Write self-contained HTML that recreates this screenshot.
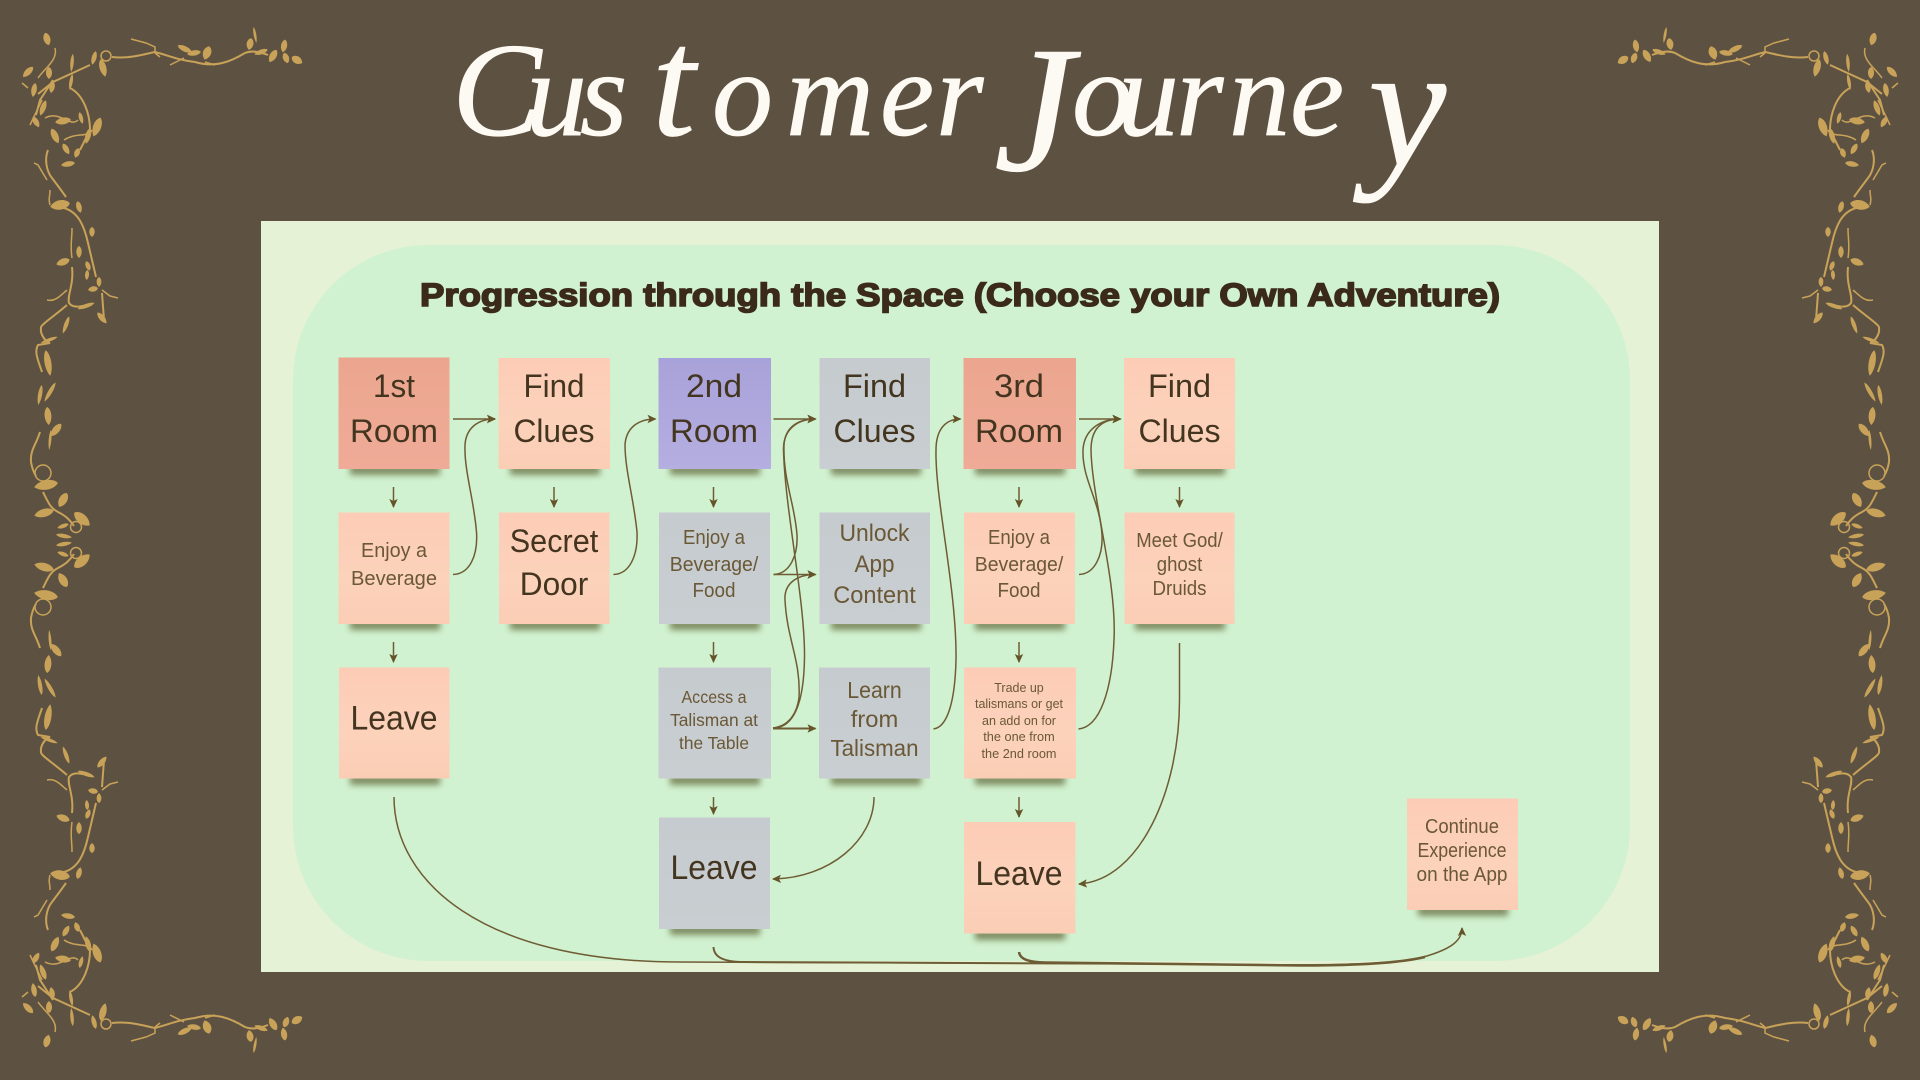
<!DOCTYPE html>
<html><head><meta charset="utf-8"><title>Customer Journey</title>
<style>html,body{margin:0;padding:0;background:#5d5241;width:1920px;height:1080px;overflow:hidden}svg{display:block}
.t{font-family:"Liberation Sans",sans-serif;text-anchor:middle}
.b{fill:#43351f;font-size:32px}.s{fill:#6a5836;font-size:20px}
.c{fill:none;stroke:#6e5c35;stroke-width:1.5}.a{marker-end:url(#ah)}</style></head><body>
<svg width="1920" height="1080" viewBox="0 0 1920 1080" xmlns="http://www.w3.org/2000/svg">
<defs>
<path id="l" d="M0-1C.8-.7 1 .4 0 1C-1 .4-.8-.7 0-1z"/>
<marker id="ah" markerUnits="userSpaceOnUse" markerWidth="10" markerHeight="10" refX="8" refY="5" orient="auto"><path d="M0 .8L9 5L0 9.2L2 5z" fill="#655329"/></marker>
<filter id="bl" x="-20%" y="-150%" width="140%" height="400%"><feGaussianBlur stdDeviation="3.2"/></filter>
<linearGradient id="pe" x1="0" y1="0" x2="0" y2="1"><stop offset="0" stop-color="#fdccb6"/><stop offset=".6" stop-color="#fcd2bb"/><stop offset="1" stop-color="#fbcdb5"/></linearGradient>
<linearGradient id="sa" x1="0" y1="0" x2="0" y2="1"><stop offset="0" stop-color="#eca68f"/><stop offset="1" stop-color="#efab97"/></linearGradient>
<linearGradient id="pu" x1="0" y1="0" x2="0" y2="1"><stop offset="0" stop-color="#a8a2da"/><stop offset="1" stop-color="#b5aee0"/></linearGradient>
<linearGradient id="gr" x1="0" y1="0" x2="0" y2="1"><stop offset="0" stop-color="#c5cbce"/><stop offset="1" stop-color="#c8ced1"/></linearGradient>
<g id="v" fill="#c9a259">
<g fill="none" stroke="#c9a259" stroke-width="1.5">
<path stroke-width="2" d="M112 57C130 59 145 54 155 52C170 56 178 60 195 62C215 68 230 62 245 53C252 50 260 52 268 55"/>
<path d="M131 39L146 43L155 47L155 53M155 53L160 57M184 58L170 65M205 62L215 65"/>
<path stroke-width="2" d="M90 65L53 82L38 94M53 80L40 100L36 115M70 88C84 95 90 115 90 130L80 150"/>
<path d="M55 48C58 60 45 68 38 78M28 88L22 83M42 100L30 125M45 118C60 110 70 128 78 120M64 140C76 132 88 138 92 130"/>
<circle cx="106" cy="56" r="5"/>
<path stroke-width="2" d="M48 150C44 160 47 172 52 178L61 190L66 197M64 208C78 212 84 225 88 243L96 277M72 267C74 285 67 295 69 303C74 310 85 305 92 304M67 305C52 318 40 325 41 328C40 335 46 342 50 343L38 345C34 352 38 360 42 372M102 293L104 320"/>
<path d="M47 300C55 302 60 296 67 290M102 290L110 296L118 298M47 180L38 165L34 163M50 205C48 198 50 198 50 190M72 228C72 240 70 245 72 258"/>
<path stroke-width="2" d="M40 432C36 445 30 450 31 462C32 468 34 473 36 476M43 492C48 502 50 508 58 512C66 516 70 520 74 526"/>
<circle cx="43" cy="473" r="8"/><circle cx="76" cy="527" r="5.5"/>
</g>
<use href="#l" transform="translate(185 49) rotate(-65) scale(4 8)"/><use href="#l" transform="translate(194 53) rotate(80) scale(4 7)"/><use href="#l" transform="translate(207 53) rotate(20) scale(6 7)"/><use href="#l" transform="translate(255 35) rotate(-10) scale(2 8)"/><use href="#l" transform="translate(250 44) rotate(10) scale(5 6)"/><use href="#l" transform="translate(261 52) rotate(70) scale(3.5 7)"/><use href="#l" transform="translate(273 56) rotate(30) scale(5 7)"/><use href="#l" transform="translate(284 46) rotate(10) scale(4.5 6.5)"/><use href="#l" transform="translate(286 58) rotate(-20) scale(4.5 5.5)"/><use href="#l" transform="translate(297 60) rotate(-60) scale(5.5 6)"/>
<use href="#l" transform="translate(47 39) rotate(-15) scale(5 6.5)"/><use href="#l" transform="translate(94 58) rotate(15) scale(3.5 7)"/><use href="#l" transform="translate(103 68) rotate(-15) scale(5 9)"/><use href="#l" transform="translate(28 72) rotate(45) scale(4.5 7)"/><use href="#l" transform="translate(49 73) scale(4.5 6)"/><use href="#l" transform="translate(52 87) rotate(10) scale(4 6)"/><use href="#l" transform="translate(71 82) rotate(10) scale(2.5 8)"/><use href="#l" transform="translate(72 63) rotate(5) scale(2.5 9)"/><use href="#l" transform="translate(34 90) rotate(10) scale(4 7)"/><use href="#l" transform="translate(43 108) rotate(20) scale(4 8)"/><use href="#l" transform="translate(36 122) rotate(-30) scale(4 6)"/><use href="#l" transform="translate(63 121) rotate(80) scale(5 8)"/><use href="#l" transform="translate(81 118) rotate(-15) scale(3 6)"/><use href="#l" transform="translate(97 127) rotate(20) scale(6 10)"/><use href="#l" transform="translate(55 136) rotate(-25) scale(5 8)"/><use href="#l" transform="translate(88 136) rotate(15) scale(4 8)"/><use href="#l" transform="translate(66 149) rotate(-30) scale(4 6)"/><use href="#l" transform="translate(77 153) rotate(20) scale(4 5)"/><use href="#l" transform="translate(68 164) rotate(80) scale(4 7)"/><use href="#l" transform="translate(60 205) rotate(80) scale(7 10)"/><use href="#l" transform="translate(79 207) rotate(-15) scale(4 6)"/><use href="#l" transform="translate(92 232) scale(4 5)"/><use href="#l" transform="translate(79 252) scale(4 6)"/><use href="#l" transform="translate(63 262) rotate(70) scale(5 7)"/><use href="#l" transform="translate(88 266) rotate(-20) scale(3.5 5)"/><use href="#l" transform="translate(87 275) rotate(5) scale(3 5)"/><use href="#l" transform="translate(99 282) scale(3.5 5)"/><use href="#l" transform="translate(93 289) rotate(80) scale(4 5)"/><use href="#l" transform="translate(86 306) rotate(70) scale(3 9)"/><use href="#l" transform="translate(102 318) rotate(-40) scale(4 7)"/><use href="#l" transform="translate(66 325) rotate(20) scale(3 9)"/><use href="#l" transform="translate(49 340) rotate(70) scale(2.5 9)"/>
<use href="#l" transform="translate(48 363) rotate(-10) scale(5 13)"/><use href="#l" transform="translate(50 392) rotate(30) scale(3 11)"/><use href="#l" transform="translate(40 395) rotate(10) scale(3 10)"/><use href="#l" transform="translate(48 416) rotate(-5) scale(5 9)"/><use href="#l" transform="translate(56 430) rotate(40) scale(5 8)"/><use href="#l" transform="translate(50 440) rotate(5) scale(2 10)"/><use href="#l" transform="translate(46 485) rotate(80) scale(7 12)"/><use href="#l" transform="translate(63 500) rotate(30) scale(6 8)"/><use href="#l" transform="translate(44 513) rotate(75) scale(6 10)"/><use href="#l" transform="translate(82 519) rotate(-50) scale(7 10)"/><use href="#l" transform="translate(63 526) rotate(70) scale(3 6)"/><use href="#l" transform="translate(64 536) rotate(-80) scale(3 8)"/>
</g>
</defs>
<rect width="1920" height="1080" fill="#5d5241"/>
<use href="#v"/><use href="#v" transform="matrix(-1 0 0 1 1920 0)"/><use href="#v" transform="matrix(1 0 0 -1 0 1080)"/><use href="#v" transform="matrix(-1 0 0 -1 1920 1080)"/>
<text font-family="'Liberation Serif',serif" font-style="italic" fill="#fdf9f3" stroke="#fdf9f3" stroke-width=".8"><tspan x="452" y="135" font-size="134">C</tspan><tspan x="526 580" y="135" font-size="122">us</tspan><tspan x="652" y="135" font-size="156">t</tspan><tspan x="712 786 880 936 1000" y="135" font-size="122">omer </tspan><tspan x="994" y="170" font-size="180">J</tspan><tspan x="1072 1118 1176 1229 1290" y="135" font-size="122">ourne</tspan><tspan x="1368" y="165" font-size="176">y</tspan></text>
<rect x="261" y="221" width="1398" height="751" fill="#e6f2d5"/>
<rect x="293" y="245" width="1337" height="716" rx="135" ry="135" fill="#d1f2d0"/>
<text class="t" x="960" y="306" font-size="32" font-weight="bold" fill="#3b2a19" stroke="#3b2a19" stroke-width="1.6" textLength="1080" lengthAdjust="spacingAndGlyphs">Progression through the Space (Choose your Own Adventure)</text>
<g fill="#5c6132" opacity=".7" filter="url(#bl)">
<rect x="350" y="465" width="90" height="10"/><rect x="510" y="465" width="90" height="10"/><rect x="670" y="465" width="90" height="10"/><rect x="831" y="465" width="90" height="10"/><rect x="975" y="465" width="90" height="10"/><rect x="1135" y="465" width="90" height="10"/>
<rect x="350" y="620" width="90" height="10"/><rect x="510" y="620" width="90" height="10"/><rect x="670" y="620" width="90" height="10"/><rect x="831" y="620" width="90" height="10"/><rect x="975" y="620" width="90" height="10"/><rect x="1135" y="620" width="90" height="10"/>
<rect x="350" y="775" width="90" height="10"/><rect x="670" y="775" width="90" height="10"/><rect x="831" y="775" width="90" height="10"/><rect x="975" y="775" width="90" height="10"/>
<rect x="670" y="925" width="90" height="10"/><rect x="975" y="930" width="90" height="10"/><rect x="1418" y="906" width="90" height="10"/>
</g>
<rect x="338.500" y="357.500" width="111" height="111.500" fill="url(#sa)"/><rect x="498.500" y="358" width="111.500" height="111" fill="url(#pe)"/><rect x="658.500" y="358" width="112.500" height="111" fill="url(#pu)"/><rect x="819.500" y="358" width="110.500" height="111" fill="url(#gr)"/><rect x="963.500" y="358" width="112.500" height="111" fill="url(#sa)"/><rect x="1124" y="358" width="111" height="111" fill="url(#pe)"/>
<rect x="338.500" y="512.500" width="111" height="111.500" fill="url(#pe)"/><rect x="499" y="512.500" width="110.500" height="111.500" fill="url(#pe)"/><rect x="659" y="512.500" width="111" height="111.500" fill="url(#gr)"/><rect x="819.500" y="512.500" width="110.500" height="111.500" fill="url(#gr)"/><rect x="964" y="512.500" width="111" height="111.500" fill="url(#pe)"/><rect x="1124.500" y="512.500" width="110" height="111.500" fill="url(#pe)"/>
<rect x="339" y="667.500" width="110.500" height="111" fill="url(#pe)"/><rect x="658.500" y="667.500" width="112.500" height="111" fill="url(#gr)"/><rect x="819" y="667.500" width="111" height="111" fill="url(#gr)"/><rect x="964" y="667.500" width="112" height="111" fill="url(#pe)"/>
<rect x="659" y="817.500" width="111" height="111.500" fill="url(#gr)"/><rect x="964" y="822" width="111.500" height="111.500" fill="url(#pe)"/><rect x="1407" y="798.500" width="111" height="111.500" fill="url(#pe)"/>
<g class="t b">
<text x="394" y="397" textLength="42" lengthAdjust="spacingAndGlyphs">1st</text><text x="394" y="442" textLength="88" lengthAdjust="spacingAndGlyphs">Room</text>
<text x="554" y="397" textLength="61" lengthAdjust="spacingAndGlyphs">Find</text><text x="554" y="442" textLength="81" lengthAdjust="spacingAndGlyphs">Clues</text>
<text x="714" y="397" textLength="56" lengthAdjust="spacingAndGlyphs">2nd</text><text x="714" y="442" textLength="88" lengthAdjust="spacingAndGlyphs">Room</text>
<text x="874.500" y="397" textLength="63" lengthAdjust="spacingAndGlyphs">Find</text><text x="874.500" y="442" textLength="82" lengthAdjust="spacingAndGlyphs">Clues</text>
<text x="1019" y="397" textLength="50" lengthAdjust="spacingAndGlyphs">3rd</text><text x="1019" y="442" textLength="88" lengthAdjust="spacingAndGlyphs">Room</text>
<text x="1179.500" y="397" textLength="63" lengthAdjust="spacingAndGlyphs">Find</text><text x="1179.500" y="442" textLength="82" lengthAdjust="spacingAndGlyphs">Clues</text>
<text x="554" y="552" textLength="88.500" lengthAdjust="spacingAndGlyphs">Secret</text><text x="554" y="595" textLength="68.500" lengthAdjust="spacingAndGlyphs">Door</text>
<text x="394" y="729.500" font-size="34" textLength="87" lengthAdjust="spacingAndGlyphs">Leave</text><text x="714" y="879" font-size="34" textLength="87" lengthAdjust="spacingAndGlyphs">Leave</text><text x="1019" y="885" font-size="34" textLength="87" lengthAdjust="spacingAndGlyphs">Leave</text>
</g>
<g class="t s">
<text x="394" y="557" textLength="66" lengthAdjust="spacingAndGlyphs">Enjoy a</text><text x="394" y="585" textLength="86" lengthAdjust="spacingAndGlyphs">Beverage</text>
<text x="714" y="544" textLength="62" lengthAdjust="spacingAndGlyphs">Enjoy a</text><text x="714" y="571" textLength="88.500" lengthAdjust="spacingAndGlyphs">Beverage/</text><text x="714" y="597" textLength="43" lengthAdjust="spacingAndGlyphs">Food</text>
<text x="1019" y="544" textLength="62" lengthAdjust="spacingAndGlyphs">Enjoy a</text><text x="1019" y="571" textLength="88.500" lengthAdjust="spacingAndGlyphs">Beverage/</text><text x="1019" y="597" textLength="43" lengthAdjust="spacingAndGlyphs">Food</text>
<text x="874.500" y="541" font-size="24" textLength="70" lengthAdjust="spacingAndGlyphs">Unlock</text><text x="874.500" y="572" font-size="24" textLength="40" lengthAdjust="spacingAndGlyphs">App</text><text x="874.500" y="603" font-size="24" textLength="82.500" lengthAdjust="spacingAndGlyphs">Content</text>
<text x="1179.500" y="547" textLength="86.500" lengthAdjust="spacingAndGlyphs">Meet God/</text><text x="1179.500" y="571" textLength="45.500" lengthAdjust="spacingAndGlyphs">ghost</text><text x="1179.500" y="595" textLength="54" lengthAdjust="spacingAndGlyphs">Druids</text>
<text x="714" y="703" font-size="17.500" textLength="65" lengthAdjust="spacingAndGlyphs">Access a</text><text x="714" y="726" font-size="17.500" textLength="88" lengthAdjust="spacingAndGlyphs">Talisman at</text><text x="714" y="749" font-size="17.500" textLength="70" lengthAdjust="spacingAndGlyphs">the Table</text>
<text x="874.500" y="698" font-size="23" textLength="54.500" lengthAdjust="spacingAndGlyphs">Learn</text><text x="874.500" y="727" font-size="23" textLength="47.500" lengthAdjust="spacingAndGlyphs">from</text><text x="874.500" y="756" font-size="23" textLength="88" lengthAdjust="spacingAndGlyphs">Talisman</text>
<text x="1019" y="692" font-size="13" textLength="49.500" lengthAdjust="spacingAndGlyphs">Trade up</text><text x="1019" y="708" font-size="13" textLength="88" lengthAdjust="spacingAndGlyphs">talismans or get</text><text x="1019" y="725" font-size="13" textLength="74" lengthAdjust="spacingAndGlyphs">an add on for</text><text x="1019" y="741" font-size="13" textLength="71.500" lengthAdjust="spacingAndGlyphs">the one from</text><text x="1019" y="758" font-size="13" textLength="75" lengthAdjust="spacingAndGlyphs">the 2nd room</text>
<text x="1462" y="833" textLength="74" lengthAdjust="spacingAndGlyphs">Continue</text><text x="1462" y="857" textLength="89" lengthAdjust="spacingAndGlyphs">Experience</text><text x="1462" y="881" textLength="91" lengthAdjust="spacingAndGlyphs">on the App</text>
</g>
<g class="c">
<path class="a" d="M393.500 487V507"/><path class="a" d="M554 487V507"/><path class="a" d="M713.500 487V507"/><path class="a" d="M1019 487V507"/><path class="a" d="M1179.500 487V507"/>
<path class="a" d="M393.500 642V662"/><path class="a" d="M713.500 642V662"/><path class="a" d="M1019 642V662"/>
<path class="a" d="M713.500 797V814"/><path class="a" d="M1019 797V817"/>
<path class="a" d="M453 419H495"/><path class="a" d="M453 574.500C470 574 478 555 476.500 532C474 500 464 470 465 445C466 428 478 419 495 419"/>
<path class="a" d="M613.500 574.500C630 574 638 555 637 532C634 500 625 470 625 445C626 428 638 419 655.500 419"/>
<path class="a" d="M773.500 419H815.500"/><path class="a" d="M773.500 574.500C790 574 798 555 797 535C795 505 783 480 784 445C785 428 797 419 815.500 419"/>
<path class="a" d="M773.500 574.500H815.500"/>
<path class="a" d="M773 728C795 728 804 700 804.500 657C805 600 785 510 783.500 450C783 430 797 419 815.500 419"/>
<path class="a" d="M773 728C790 726 797 712 799 698C801 660 787 640 785 600C784 585 795 574.500 815.500 574.500"/>
<path class="a" d="M773 728.500H815.500" stroke-width="2"/>
<path class="a" d="M933.500 729C948 727 955 700 956 660C957 590 935 500 936 450C936 430 945 419 960.500 419"/>
<path class="a" d="M1079 419H1120.500"/><path class="a" d="M1079 574.500C1095 574 1103 555 1102 535C1100 500 1082 480 1083 450C1084 430 1100 419 1120.500 419"/>
<path class="a" d="M1078.500 729C1100 727 1112 690 1114 640C1117 580 1092 500 1091 450C1091 430 1100 419 1120.500 419"/>
<path class="a" d="M1179.500 643V700C1179.500 790 1140 880 1079 884"/>
<path class="a" d="M874 797C874 840 830 878 773 879"/>
<path class="a" d="M394 797C394 880 480 962 680 962L1200 964C1340 966 1400 965 1430 955C1452 948 1462 940 1462 928"/>
<path d="M713.500 947C714 958 725 962 745 962L1200 964" stroke-width="2"/><path d="M1019 952C1020 960 1030 962 1045 962.500L1300 965.500C1360 965.500 1400 963 1425 957" stroke-width="2.500"/>
</g>
</svg></body></html>
